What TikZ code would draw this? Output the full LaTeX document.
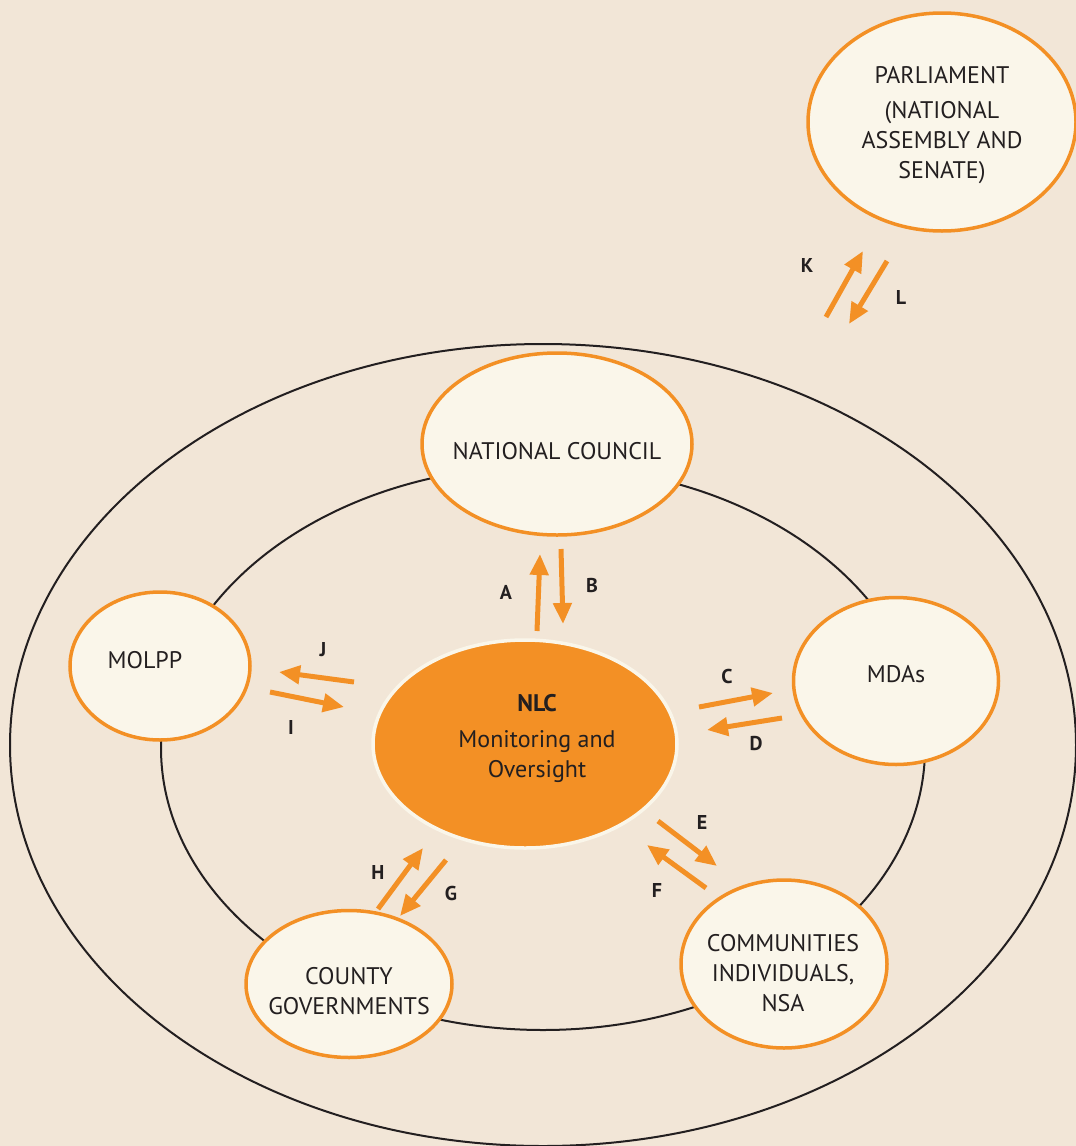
\documentclass[tikz,border=0pt]{standalone}
\usepackage{fontspec}
\setmainfont{PT Sans}
\usetikzlibrary{shapes.geometric,arrows.meta}
\definecolor{bg}{HTML}{F2E6D7}
\definecolor{cream}{HTML}{FAF6EA}
\definecolor{orng}{HTML}{F39025}
\definecolor{ink}{HTML}{231F20}
\tikzset{
  x=1pt,y=-1pt,
  ring/.style={draw=ink,line width=2pt},
  bubble/.style={ellipse,draw=orng,line width=3.5pt,fill=cream,inner sep=0pt},
  core/.style={ellipse,draw=cream,line width=3.5pt,fill=orng,inner sep=0pt},
  txt/.style={text=ink,font=\fontsize{24}{30}\selectfont,align=center,inner sep=0pt},
  lbl/.style={text=ink,font=\fontsize{20}{22}\selectfont\bfseries,inner sep=0pt},
  flow/.style={draw=orng,line width=5pt,-{Triangle[length=21pt,width=18pt]}},
}
\begin{document}
\begin{tikzpicture}
\fill[bg] (0,0) rectangle (1076,1146);
\useasboundingbox (0,0) rectangle (1076,1146);
% rings
\draw[ring] (543,745) ellipse [x radius=533, y radius=401];
\draw[ring] (543,748) ellipse [x radius=382, y radius=282];
% bubbles
\node[bubble,minimum width=268pt,minimum height=218pt] (parl) at (942,122) {};
\node[bubble,minimum width=270pt,minimum height=182pt] (nc) at (557,444) {};
\node[bubble,minimum width=180pt,minimum height=148pt] (molpp) at (160,666) {};
\node[bubble,minimum width=205pt,minimum height=167pt] (mdas) at (896,681) {};
\node[bubble,minimum width=206pt,minimum height=147pt] (county) at (349,984) {};
\node[bubble,minimum width=206pt,minimum height=168pt] (comm) at (784,964) {};
\node[core,minimum width=304pt,minimum height=208pt] (nlc) at (525,744) {};
% texts
\node[txt] (parlt) at (942,75) {PARLIAMENT};
\node[txt] (parlt2) at (942,143) {(NATIONAL\\ASSEMBLY AND\\SENATE)};
\node[txt] (nct) at (557,451) {NATIONAL COUNCIL};
\node[txt] (molppt) at (145,660) {MOLPP};
\node[txt] (mdast) at (896,674) {MDAs};
\node[txt] (countyt) at (349,991) {COUNTY\\GOVERNMENTS};
\node[txt] (commt) at (783,973) {COMMUNITIES\\INDIVIDUALS,\\NSA};
\node[txt,font=\fontsize{24}{30}\selectfont\bfseries] (nlct) at (537,703) {NLC};
\node[txt] (nlct2) at (537,757) {Monitoring and\\Oversight};
% arrow end points
\coordinate (k1) at (826,317); \coordinate (k2) at (863,251);
\coordinate (l1) at (887,261); \coordinate (l2) at (849,324);
\coordinate (a1) at (537,631); \coordinate (a2) at (540,554);
\coordinate (b1) at (561,549); \coordinate (b2) at (563,624);
\coordinate (j1) at (354,682); \coordinate (j2) at (279,672);
\coordinate (i1) at (270,692); \coordinate (i2) at (344,707);
\coordinate (c1) at (699,707); \coordinate (c2) at (773,693);
\coordinate (d1) at (782,718); \coordinate (d2) at (707,730);
\coordinate (e1) at (658,821); \coordinate (e2) at (717,866);
\coordinate (f1) at (706,888); \coordinate (f2) at (647,845);
\coordinate (h1) at (378,909); \coordinate (h2) at (423,848);
\coordinate (g1) at (446,860); \coordinate (g2) at (400,916);
\draw[flow] (k1) -- (k2);
\draw[flow] (l1) -- (l2);
\draw[flow] (a1) -- (a2);
\draw[flow] (b1) -- (b2);
\draw[flow] (j1) -- (j2);
\draw[flow] (i1) -- (i2);
\draw[flow] (c1) -- (c2);
\draw[flow] (d1) -- (d2);
\draw[flow] (e1) -- (e2);
\draw[flow] (f1) -- (f2);
\draw[flow] (h1) -- (h2);
\draw[flow] (g1) -- (g2);
% labels
\node[lbl] (lk) at (807,265) {K};
\node[lbl] (ll) at (901,297) {L};
\node[lbl] (la) at (506,592) {A};
\node[lbl] (lb) at (592,585) {B};
\node[lbl] (lj) at (323,650) {J};
\node[lbl] (li) at (291,727) {I};
\node[lbl] (lc) at (727,676) {C};
\node[lbl] (ld) at (756,744) {D};
\node[lbl] (le) at (702,822) {E};
\node[lbl] (lf) at (657,890) {F};
\node[lbl] (lh) at (378,872) {H};
\node[lbl] (lg) at (451,893) {G};
\end{tikzpicture}
\end{document}
